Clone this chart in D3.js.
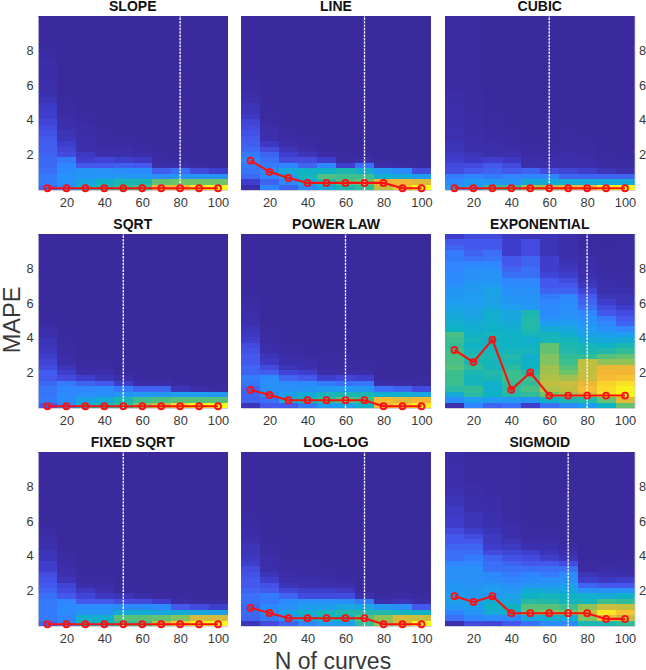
<!DOCTYPE html>
<html><head><meta charset="utf-8">
<script src="https://d3js.org/d3.v7.min.js"></script>
<style>html,body{margin:0;padding:0;background:#fff}svg{display:block;font-family:"Liberation Sans",Arial,sans-serif}</style>
</head><body><svg id="c" width="646" height="670"></svg>
<script>
// Heat values 0-100 per column (N = 10..100), listed from bottom row upward; the last value holds to the top row.
const nCurves=[10,20,30,40,50,60,70,80,90,100];
const yTicks=[2,4,6,8];
const xTicks=[20,40,60,80,100];
const titles=["SLOPE","LINE","CUBIC","SQRT","POWER LAW","EXPONENTIAL","FIXED SQRT","LOG-LOG","SIGMOID"];
const bestN=[80,70,60,50,60,80,50,70,70];
const redSlope=[.05,.05,.05,.05,.05,.05,.05,.05,.05,.05];
const redLine=[1.65,1,.65,.36,.36,.36,.36,.36,.05,.05];
const redCubic=[.05,.05,.05,.05,.05,.05,.05,.05,.05,.05];
const redSqrt=[.05,.05,.05,.05,.05,.05,.05,.05,.05,.05];
const redPower=[1,.7,.4,.4,.4,.4,.4,.05,.05,.05];
const redExp=[3.3,2.6,3.9,1,2,.67,.67,.67,.67,.67];
const redFixed=[.05,.05,.05,.05,.05,.05,.05,.05,.05,.05];
const redLog=[1,.7,.4,.4,.4,.4,.4,.05,.05,.05];
const redSig=[1.67,1.34,1.67,.69,.69,.69,.69,.69,.36,.36];
const heatSlope=[
[15,18,18,16,15,15,14,13,13,12,11,10,9,8,8,7,6,5,4,4,3,3,3,3,2,2,1,0],
[22,25,25,22,20,18,10,9,8,6,6,5,4,3,2,2,1,0],
[38,33,27,26,12,8,7,5,4,4,3,3,2,1,0],
[44,40,27,24,12,9,4,3,2,2,1,0],
[50,44,28,23,13,8,4,3,2,1,0],
[52,44,28,22,12,7,3,2,1,0],
[78,58,24,13,4,1,1,0],
[80,60,26,16,4,1,0],
[96,60,26,10,2,0],
[100,60,26,8,1,0]];
const heatLine=[
[4,8,15,17,18,20,18,15,13,12,11,10,9,7,6,6,4,3,2,2,1,0],
[20,14,20,22,18,16,14,10,7,4,4,3,2,1,1,0],
[14,20,30,35,20,10,8,6,3,2,1,0],
[22,34,42,40,14,10,6,3,2,1,0],
[35,45,55,40,20,8,3,1,0],
[44,55,52,44,8,2,1,0],
[50,58,52,38,16,4,1,0],
[70,78,38,28,3,1,0],
[84,80,36,22,2,0],
[100,76,30,10,1,0]];
const heatCubic=[
[30,22,18,10,10,8,7,6,6,5,5,5,4,4,4,3,3,3,2,2,2,2,2,2,2,1,1,1,2,2,2,1],
[32,28,20,12,10,7,6,5,4,4,3,3,3,3,2,2,2,2,1,1,1,1,1,1,1,1,1,1,1,1,1,1],
[50,28,18,14,12,8,4,4,3,2,2,1,1,1,1,0],
[50,26,20,12,10,7,5,3,2,2,1,0],
[66,36,20,14,5,3,2,1,1,0],
[68,36,20,10,4,3,2,1,1,0],
[76,36,14,9,5,4,3,2,2,1,1,0],
[78,36,14,8,4,3,2,2,1,1,0],
[98,36,14,6,2,1,1,0],
[100,36,14,5,1,1,0]];
const heatSqrt=[
[12,18,17,17,15,12,13,10,9,8,7,6,6,4,3,2,1,0],
[20,22,22,20,18,10,8,6,4,3,2,2,1,1,0],
[40,32,24,20,14,8,3,2,1,0],
[44,36,24,22,12,6,3,2,1,0],
[48,44,26,18,8,4,1,0],
[62,52,28,14,3,1,0],
[70,54,28,14,3,1,0],
[90,56,30,6,1,0],
[100,56,30,3,0],
[100,56,28,2,0]];
const heatPower=[
[6,14,14,14,17,18,14,14,12,12,11,10,8,7,6,5,4,3,3,2,1,0],
[12,16,22,24,24,22,13,10,7,6,4,3,2,2,1,0],
[12,38,30,24,22,14,9,6,4,3,2,1,0],
[18,42,36,26,22,12,8,5,4,2,1,0],
[30,50,42,28,18,8,3,2,2,1,0],
[32,55,44,30,16,9,3,2,1,1,0],
[40,52,44,28,17,8,3,1,1,0],
[78,82,38,16,3,1,0],
[88,76,38,14,3,1,0],
[96,80,34,10,2,1,0]];
const heatExp=[
[5,24,36,48,52,52,52,56,54,54,52,50,52,54,40,38,36,34,32,30,28,27,24,22,22,20,20,18,18,14,12,8],
[20,30,48,50,42,42,44,50,44,46,42,40,42,40,38,36,34,32,32,30,30,28,28,26,24,24,20,16,14,12,12,10],
[14,30,40,38,38,44,46,42,42,44,42,42,40,42,40,38,38,38,34,32,32,32,30,26,26,24,20,17,16,12,12,10],
[16,28,46,48,50,52,52,48,44,46,42,40,40,40,38,36,34,34,30,28,26,24,22,20,16,14,12,12,8,8,8,7],
[8,26,50,54,50,52,46,40,40,38,42,40,38,42,46,46,46,44,28,26,26,24,22,20,16,16,14,14,10,10,10,6],
[16,40,60,68,70,68,66,66,62,62,58,58,42,42,36,30,24,22,22,20,18,14,12,12,9,8,8,8,6,6,6,6],
[22,44,66,70,72,66,60,56,52,50,46,44,42,38,34,30,26,24,24,22,20,14,12,10,8,7,6,5,4,4,3,3],
[30,46,76,82,78,72,70,70,70,50,44,42,36,32,30,26,24,20,16,14,12,9,7,6,5,4,3,3,2,2,1,1],
[40,58,92,90,88,82,80,78,64,56,46,40,34,30,24,20,18,12,10,8,6,5,4,3,3,2,1,1,1,1,0,0],
[58,76,100,98,92,84,80,78,64,58,50,44,36,30,20,14,12,10,8,6,6,5,3,3,2,1,1,1,1,1,1,1]];
const heatFixed=[
[14,18,18,18,18,16,14,12,11,10,8,8,6,6,5,4,3,2,1,0],
[22,20,22,22,20,12,10,9,6,5,4,3,2,1,0],
[40,38,26,23,12,9,7,3,2,1,0],
[42,38,26,23,12,7,5,3,2,1,0],
[50,56,36,22,10,6,1,0],
[52,56,36,22,10,4,1,0],
[70,58,34,22,8,1,0],
[86,62,36,12,3,1,0],
[100,74,34,10,2,0],
[100,74,32,8,2,0]];
const heatLog=[
[6,14,15,15,16,16,14,12,12,11,10,8,7,6,6,5,3,3,2,2,1,0],
[10,18,22,22,18,18,12,11,8,6,4,3,3,2,2,1,0],
[14,28,32,24,22,14,9,6,4,3,2,1,0],
[20,36,38,30,24,10,8,5,4,2,2,1,0],
[30,42,42,30,24,10,8,5,3,2,1,0],
[30,42,46,34,24,10,7,4,2,1,0],
[50,56,46,34,18,5,1,0],
[64,64,46,28,4,1,0],
[76,74,42,24,6,2,1,0],
[100,72,40,12,3,1,0]];
const heatSig=[
[5,16,20,28,32,30,28,28,24,24,24,20,16,16,14,12,12,10,8,8,7,7,6,6,5,5,4,4,4,3,3,3],
[10,20,26,30,32,28,28,26,24,24,24,20,18,16,14,12,10,8,6,6,6,4,4,3,3,3,2,2,2,2,2,2],
[9,22,36,40,36,28,30,28,22,22,16,16,14,10,8,7,7,6,5,4,4,3,3,3,2,2,2,1],
[12,22,38,40,34,32,28,24,20,18,16,14,11,9,7,6,4,3,3,2,2,1],
[16,34,58,56,48,40,36,28,22,20,16,12,10,8,5,3,2,1,1,0],
[22,38,62,56,46,42,34,28,24,18,16,12,8,6,4,3,2,1,0],
[22,36,60,52,42,40,34,30,24,22,16,10,6,4,2,1,0],
[44,62,70,64,42,38,24,14,8,6,2,1,0],
[44,80,94,72,52,36,24,12,7,5,3,2,1,0],
[50,70,84,70,50,40,24,12,8,4,2,1,0]];
const heats=[heatSlope,heatLine,heatCubic,heatSqrt,heatPower,heatExp,heatFixed,heatLog,heatSig];
const reds=[redSlope,redLine,redCubic,redSqrt,redPower,redExp,redFixed,redLog,redSig];
const colLevels=[0,5,8,12,20,30,40,50,60,70,80,90,100];
const colStops=["#3a2a9e","#3c30ae","#3f3ecc","#4458ee","#2f86ff","#1f9df0","#0fb2c4","#30bc98","#70c468","#c0bf40","#f5b535","#fad92a","#f8fa18"];
const ROWS=32;

const color=d3.scaleLinear().domain(colLevels).range(colStops).clamp(true);
const svg=d3.select("#c");
const colX=[[38,227.5],[241,431],[445,634.5]];
const rowY=[[190,16],[408,234],[626,452]];
const ink="#383838";

titles.forEach((t,i)=>{
  const c=i%3,r=Math.floor(i/3);
  const x=d3.scaleLinear().domain([5,105]).range(colX[c]);
  const y=d3.scaleLinear().domain([-0.05,10]).range(rowY[r]);
  const band=d3.scaleBand().domain(d3.range(ROWS)).range(rowY[r]);
  const g=svg.append("g");
  const cells=[];
  heats[i].forEach((col,ci)=>{
    for(let k=0;k<ROWS;k++) cells.push({n:nCurves[ci],k,v:col[Math.min(k,col.length-1)]});
  });
  g.selectAll("rect").data(cells).join("rect")
    .attr("x",d=>x(d.n-5)).attr("width",d=>x(d.n+5)-x(d.n-5))
    .attr("y",d=>band(d.k)).attr("height",band.bandwidth())
    .attr("fill",d=>color(d.v)).attr("shape-rendering","crispEdges");
  // axes
  const ax=g.append("g").attr("transform",`translate(0,${rowY[r][0]})`)
    .call(d3.axisBottom(x).tickValues(xTicks).tickSize(0).tickPadding(8));
  ax.select(".domain").attr("stroke","#c4c4d0").attr("stroke-width",.8);
  ax.selectAll("text").attr("fill",ink).attr("font-size",12.8).attr("font-family","inherit");
  if(c!==1){
    const yAxis=c===0?d3.axisLeft(y):d3.axisRight(y);
    const ay=g.append("g").attr("transform",`translate(${c===0?colX[c][0]:colX[c][1]},0)`)
      .call(yAxis.tickValues(yTicks).tickSize(0).tickPadding(4.5));
    ay.select(".domain").attr("stroke","#c4c4d0").attr("stroke-width",.8);
    ay.selectAll("text").attr("fill",ink).attr("font-size",12.8).attr("font-family","inherit");
  }
  // dashed best-N marker
  g.append("line").attr("x1",x(bestN[i])).attr("x2",x(bestN[i]))
    .attr("y1",rowY[r][0]).attr("y2",rowY[r][1])
    .attr("stroke","#fff").attr("stroke-width",1.3).attr("stroke-dasharray","2.4,1");
  // red series
  const pts=nCurves.map((n,j)=>[n,reds[i][j]]);
  g.append("path").attr("d",d3.line().x(d=>x(d[0])).y(d=>y(d[1]))(pts))
    .attr("fill","none").attr("stroke","#fb1010").attr("stroke-width",2.1);
  g.selectAll("circle").data(pts).join("circle")
    .attr("cx",d=>x(d[0])).attr("cy",d=>y(d[1])).attr("r",3)
    .attr("fill","none").attr("stroke","#fb1010").attr("stroke-width",1.8);
  // title
  svg.append("text").attr("x",(colX[c][0]+colX[c][1])/2).attr("y",rowY[r][1]-5)
    .attr("text-anchor","middle").attr("font-weight","bold").attr("font-size",14)
    .attr("fill","#111").text(t);
});
svg.append("text").attr("transform","translate(20,320) rotate(-90)").attr("text-anchor","middle")
  .attr("font-size",23.5).attr("fill",ink).text("MAPE");
svg.append("text").attr("x",333).attr("y",669).attr("text-anchor","middle")
  .attr("font-size",23).attr("fill",ink).text("N of curves");
</script></body></html>
